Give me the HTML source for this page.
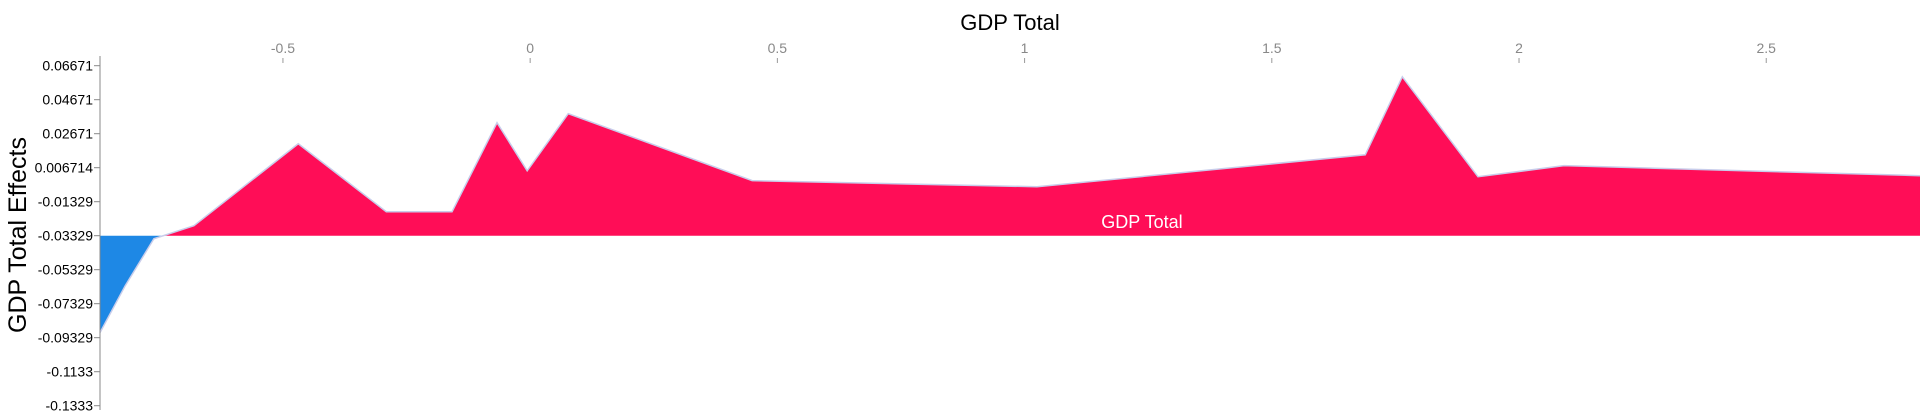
<!DOCTYPE html>
<html><head><meta charset="utf-8"><style>
body{margin:0;background:#fff;width:1920px;height:418px;overflow:hidden}
svg{display:block;font-family:"Liberation Sans",sans-serif}
</style></head><body>
<svg id="chart" width="1920" height="418"></svg>
<script>
const xs = [-0.870,-0.819,-0.761,-0.680,-0.469,-0.291,-0.158,-0.067,-0.006,0.077,0.449,1.025,1.689,1.764,1.917,2.091,2.811];
const effects = [-0.0903,-0.0627,-0.0351,-0.0274,0.0208,-0.0192,-0.0192,0.0332,0.0049,0.0385,-0.0009,-0.0045,0.0143,0.0602,0.0014,0.0079,0.0020];
const yTicks = [0.06671,0.04671,0.02671,0.006714,-0.01329,-0.03329,-0.05329,-0.07329,-0.09329,-0.1133,-0.1333];
const yTickLabels = ["0.06671","0.04671","0.02671","0.006714","-0.01329","-0.03329","-0.05329","-0.07329","-0.09329","-0.1133","-0.1333"];
const xTicks = [-0.5,0,0.5,1,1.5,2,2.5];
const xTickLabels = ["-0.5","0","0.5","1","1.5","2","2.5"];
const baseValue = -0.03329;

const NS="http://www.w3.org/2000/svg";
const svg=document.getElementById('chart');
const L=100,R=1920,yTop=65.7,yBot=405.7;
const xMin=-0.870,xMax=2.811;
const X=v=>L+(v-xMin)/(xMax-xMin)*(R-L);
const Y=v=>yTop+(0.06671-v)/(0.06671+0.1333)*(yBot-yTop);
function mk(t,a,p){const e=document.createElementNS(NS,t);for(const k in a)e.setAttribute(k,a[k]);(p||svg).appendChild(e);return e;}
const by=Y(baseValue);

// find crossing
let pos=[],neg=[];
for(let i=0;i<xs.length;i++){
  const px=X(xs[i]),py=Y(effects[i]);
  if(effects[i]<baseValue){neg.push([px,py]);}
  else{
    if(neg.length&&pos.length===0){const j=i-1;const t=(baseValue-effects[j])/(effects[i]-effects[j]);const cx=X(xs[j]+t*(xs[i]-xs[j]));neg.push([cx,by]);pos.push([cx,by]);}
    pos.push([px,py]);
  }
}
const negPath="M"+X(xs[0])+","+by+" "+neg.map(p=>"L"+p[0]+","+p[1]).join(" ")+"Z";
const n=mk('path',{d:negPath,fill:'#1e88e5'});


const posPath="M"+pos[0][0]+","+by+" "+pos.map(p=>"L"+p[0]+","+p[1]).join(" ")+" L"+X(xs[xs.length-1])+","+by+"Z";
const p=mk('path',{d:posPath,fill:'#ff0d57'});


const line=mk('polyline',{points:xs.map((v,i)=>X(v)+","+Y(effects[i])).join(" "),fill:'none',stroke:'#c8cdeb','stroke-width':1.5});



// y axis
const ya=mk('line',{x1:L,y1:56,x2:L,y2:410,stroke:'#888','stroke-width':1});


yTicks.forEach((v,i)=>{
  const tk=mk('line',{x1:L-6,y1:Y(v),x2:L,y2:Y(v),stroke:'#888'});
  
  
  const t=mk('text',{x:L-7,y:Y(v)+5,'text-anchor':'end','font-size':14,fill:'#000'});
  t.textContent=yTickLabels[i];
  
  
});
xTicks.forEach((v,i)=>{
  const tk=mk('line',{x1:X(v),y1:58,x2:X(v),y2:63,stroke:'#999'});
  
  
  const t=mk('text',{x:X(v),y:53,'text-anchor':'middle','font-size':14,fill:'#888'});
  t.textContent=xTickLabels[i];
  
  
});
const tt=mk('text',{x:1010,y:30,'text-anchor':'middle','font-size':22,fill:'#000'});
tt.textContent='GDP Total';


const yt=mk('text',{x:0,y:0,'text-anchor':'middle','font-size':25,fill:'#000',transform:'translate(26,235) rotate(-90)'});
yt.textContent='GDP Total Effects';


const lb=mk('text',{x:1142,y:228,'text-anchor':'middle','font-size':18,fill:'#fff'});
lb.textContent='GDP Total';


</script>
</body></html>
